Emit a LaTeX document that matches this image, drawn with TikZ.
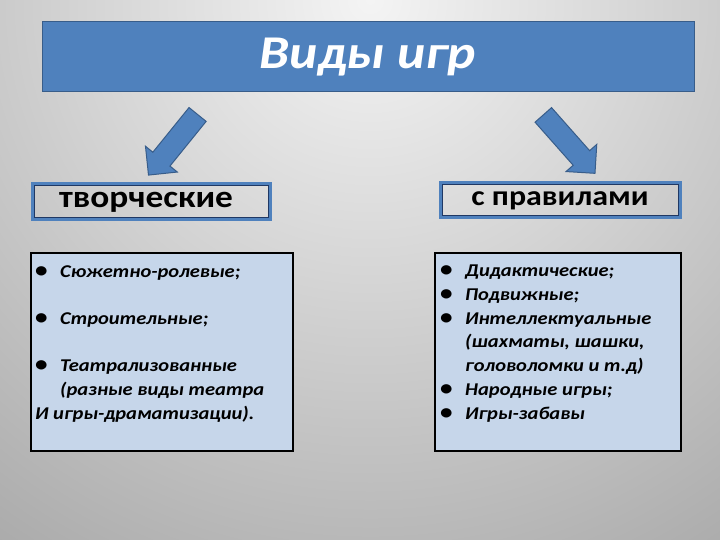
\documentclass[tikz,border=0pt]{standalone}
\usepackage{fontspec}
\setmainfont{Carlito}[FakeStretch=1.14]
\usetikzlibrary{shapes.arrows}

\definecolor{barblue}{RGB}{79,129,189}
\definecolor{bardark}{RGB}{56,93,138}
\definecolor{framenavy}{RGB}{31,56,100}
\definecolor{listfill}{RGB}{198,214,234}
\definecolor{bgtop}{RGB}{244,244,244}
\definecolor{bgbot}{RGB}{133,133,133}

\newcommand{\bul}{\makebox[25pt][l]{\upshape\fontsize{22}{23.7}\selectfont•}}

\tikzset{
  titlebar/.style={draw=bardark, line width=1pt, fill=barblue, text=white,
    font=\fontsize{47}{52}\selectfont\bfseries\itshape,
    minimum width=652pt, minimum height=70pt},
  kindarrow/.style={single arrow, draw=bardark, line width=1pt, fill=barblue,
    minimum height=78pt, single arrow head extend=9.5pt,
    inner xsep=0pt, inner ysep=10.5pt},
  kindbox/.style={draw=barblue, line width=3pt, minimum height=36pt,
    font=\fontsize{31}{34}\selectfont\bfseries,
    path picture={\draw[framenavy, line width=1pt]
      ([shift={(2pt,-2pt)}]path picture bounding box.north west) rectangle
      ([shift={(-2pt,2pt)}]path picture bounding box.south east);}},
  listbox/.style={draw=black, line width=2pt, fill=listfill, anchor=north west},
  listtext/.style={align=left, anchor=north west, inner sep=0pt,
    font=\fontsize{18}{23.7}\selectfont\bfseries\itshape}
}

\begin{document}
\begin{tikzpicture}[x=1pt,y=-1pt]
    \useasboundingbox (0,0) rectangle (720,540);
    % background
    \begin{scope}
    \clip (0,0) rectangle (720,540);
    \shade[inner color=bgtop, outer color=bgbot] (370,0) circle (1000pt);
    \end{scope}

    \node[titlebar] (title) at (368,57) {\raisebox{-3pt}{Виды игр}};
    \node[kindarrow, rotate=231] (arrL) at (176.5,140.5) {};
    \node[kindarrow, rotate=-48.5] (arrR) at (565.5,140) {};

    \node[kindbox, minimum width=238pt] (tvor) at (151,202) {творческие\hspace*{10pt}};
    \node[kindbox, minimum width=240pt, minimum height=35pt,
          font=\fontsize{28}{32}\selectfont\bfseries] (prav) at (560,200.5) {с правилами};

    % lists
    \node[listbox, minimum width=262pt, minimum height=198pt] (tvorlist) at (30,252) {};
    \node[listbox, minimum width=246pt, minimum height=198pt] (pravlist) at (434,252) {};
    \node[listtext] (tvoritems) at (35,265) {\bul Сюжетно-ролевые;\\[23.7pt]
        \bul Строительные;\\[23.7pt]
        \bul Театрализованные\\
        \hspace*{25pt}(разные виды театра\\
        И игры-драматизации).};
    \node[listtext] (pravitems) at (440,265) {\bul Дидактические;\\
        \bul Подвижные;\\
        \bul Интеллектуальные\\
        \hspace*{25pt}(шахматы, шашки,\\
        \hspace*{25pt}головоломки и т.д)\\
        \bul Народные игры;\\
        \bul Игры-забавы};
\end{tikzpicture}
\end{document}
